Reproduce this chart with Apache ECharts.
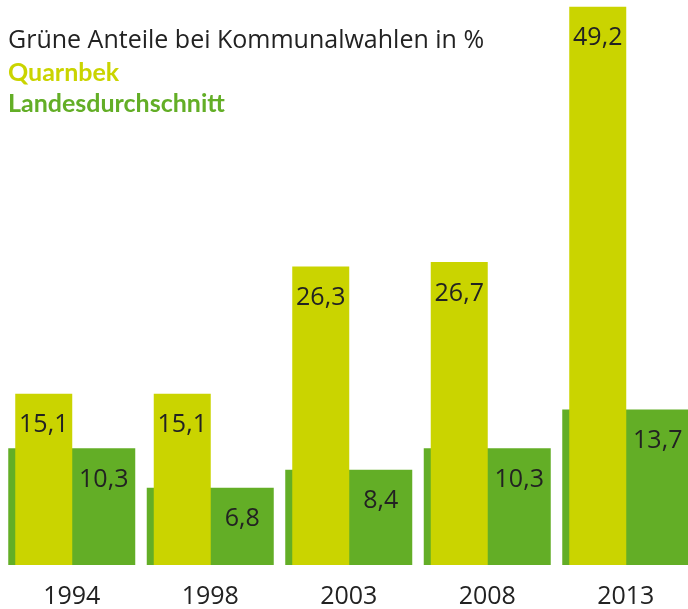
<!DOCTYPE html>
<html>
<head>
<meta charset="utf-8">
<script src="https://cdn.jsdelivr.net/npm/echarts@6/dist/echarts.min.js"></script>
<style>
  html, body { margin: 0; padding: 0; background: #fff; overflow: hidden; }
  /* the last bar runs off the right edge, so the canvas is a bit wider than the window */
  #chart { width: 700px; height: 609px; }
</style>
</head>
<body>
<div id="chart"></div>
<script>
// Grüne Anteile bei Kommunalwahlen
var years = ['1994', '1998', '2003', '2008', '2013'];
var quarnbek = [15.1, 15.1, 26.3, 26.7, 49.2];
var landesdurchschnitt = [10.3, 6.8, 8.4, 10.3, 13.7];

var YELLOW = '#cad400';
var GREEN = '#63ae26';
var FONT = 'Open Sans';

var myChart = echarts.init(document.getElementById('chart'));

function fmt(p) {
  return String(p.value).replace('.', ',');
}

var option = {
  animation: false,
  textStyle: { fontFamily: FONT },
  title: [
    { text: 'Grüne Anteile bei Kommunalwahlen in %', left: 8, top: 28, padding: 0,
      textStyle: { fontSize: 25, fontWeight: 'normal', color: '#222', fontFamily: FONT } },
    { text: 'Quarnbek', left: 8, top: 60, padding: 0,
      textStyle: { fontSize: 25, fontWeight: 'bold', color: YELLOW, fontFamily: 'Lato' } },
    { text: 'Landesdurchschnitt', left: 8, top: 91, padding: 0,
      textStyle: { fontSize: 25, fontWeight: 'bold', color: GREEN, fontFamily: 'Lato' } }
  ],
  grid: { left: 6, width: 692.5, top: 0, height: 566 },
  xAxis: {
    type: 'category', data: years,
    axisLine: { show: false }, axisTick: { show: false },
    // right padding nudges the year under the middle of the green bar
    axisLabel: { fontSize: 25, color: '#222', margin: 19, fontFamily: FONT, padding: [0, 7, 0, 0] }
  },
  yAxis: { type: 'value', min: 0, max: 49.8, show: false, splitLine: { show: false } },
  series: [
    {
      // narrow bar, drawn on top of the wide one
      name: 'Quarnbek',
      type: 'bar',
      barWidth: 57,
      barGap: '-112.28%',
      z: 3,
      itemStyle: { color: YELLOW },
      label: { show: true, position: 'insideTop', distance: 19,
        formatter: fmt, fontSize: 25, color: '#222', fontFamily: FONT },
      data: quarnbek
    },
    {
      name: 'Landesdurchschnitt',
      type: 'bar',
      barWidth: 127,
      barGap: '-112.28%',
      z: 2,
      itemStyle: { color: GREEN },
      label: { show: true, position: 'insideTop', distance: 19, offset: [32, 0],
        formatter: fmt, fontSize: 25, color: '#222', fontFamily: FONT },
      data: landesdurchschnitt
    }
  ]
};
myChart.setOption(option);
</script>
</body>
</html>
